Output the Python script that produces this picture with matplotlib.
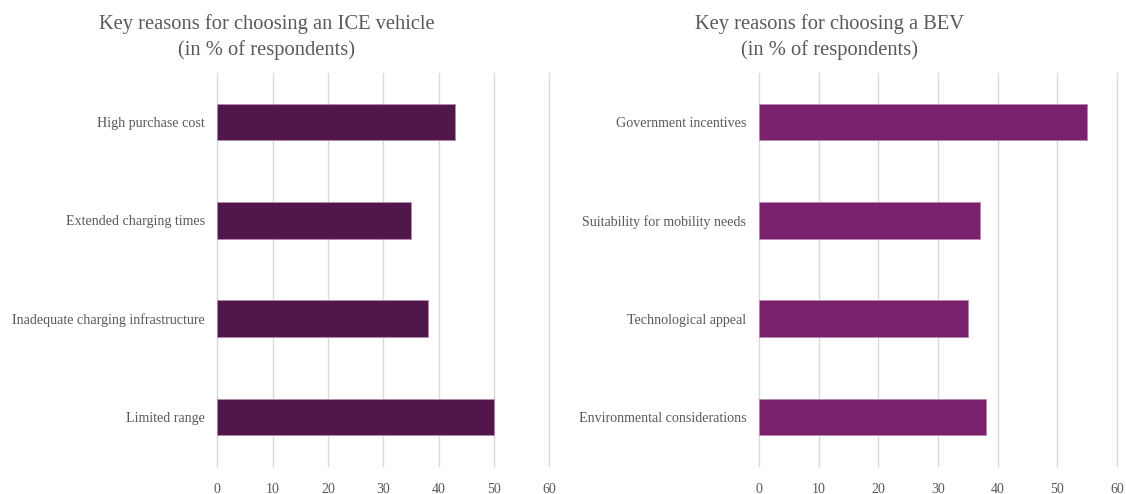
import matplotlib.pyplot as plt

plt.rcParams['font.family'] = ['Liberation Serif', 'DejaVu Serif']

ice_reasons = ['High purchase cost', 'Extended charging times',
               'Inadequate charging infrastructure', 'Limited range']
ice_values = [43, 35, 38, 50]

bev_reasons = ['Government incentives', 'Suitability for mobility needs',
               'Technological appeal', 'Environmental considerations']
bev_values = [55, 37, 35, 38]

x_ticks = [0, 10, 20, 30, 40, 50, 60]

fig = plt.figure(figsize=(11.26, 4.94), dpi=100)
ax1 = fig.add_axes([0.193, 0.057, 0.295, 0.795])
ax2 = fig.add_axes([0.674, 0.057, 0.318, 0.795])

text_col = '#595959'

def draw(ax, labels, values, color):
    ypos = list(range(len(labels)))
    ax.barh(ypos, values, height=0.37, color=color, edgecolor='#b58aae',
            linewidth=0.6, zorder=3)
    ax.set_ylim(3.5, -0.5)
    ax.set_xlim(0, 60)
    ax.set_yticks(ypos)
    ax.set_yticklabels(labels, fontsize=10.1, color=text_col)
    ax.set_xticks(x_ticks)
    ax.set_xticklabels([str(t) for t in x_ticks], fontsize=10, color=text_col)
    ax.tick_params(length=0, pad=12)
    ax.tick_params(axis='y', pad=9)
    ax.grid(axis='x', color='#d9d9d9', linewidth=1, zorder=0)
    for gl in ax.get_xgridlines():
        gl.set_clip_on(False)
    for s in ax.spines.values():
        s.set_visible(False)

draw(ax1, ice_reasons, ice_values, '#52174a')
draw(ax2, bev_reasons, bev_values, '#7a216e')

fig.text(0.237, 0.925, 'Key reasons for choosing an ICE vehicle\n(in % of respondents)',
         ha='center', va='center', fontsize=14.8, color=text_col, linespacing=1.4)
fig.text(0.737, 0.925, 'Key reasons for choosing a BEV\n(in % of respondents)',
         ha='center', va='center', fontsize=14.8, color=text_col, linespacing=1.4)

fig.savefig('out.png', dpi=100)
